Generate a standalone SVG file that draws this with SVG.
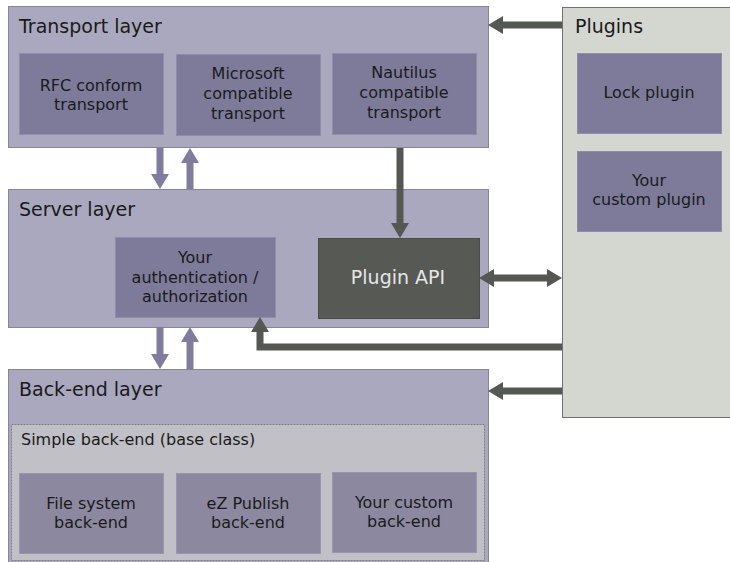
<svg xmlns="http://www.w3.org/2000/svg" width="730" height="562" viewBox="0 0 730 562">
<style>
.layer{fill:#aaa8bf;stroke:#86849b;stroke-width:1}
.box{fill:#7d7a9a;stroke:#8f8daa;stroke-width:1}
.bbox{fill:#8b889f;stroke:#9896ac;stroke-width:1}
.title{font-family:"DejaVu Sans",sans-serif;font-size:19px;fill:#1a1a1a}
.lbl{font-family:"DejaVu Sans",sans-serif;font-size:16px;fill:#1a1a1a;text-anchor:middle}
.dark{stroke:#555753;stroke-width:7;fill:none}
.blue{stroke:#7f7c9d;stroke-width:7;fill:none}
</style>
<defs>
<marker id="hd" markerUnits="userSpaceOnUse" markerWidth="16" markerHeight="18" refX="1" refY="9" orient="auto-start-reverse"><path d="M0,0 L15,9 L0,18 z" fill="#555753"/></marker>
<marker id="hb" markerUnits="userSpaceOnUse" markerWidth="16" markerHeight="18" refX="1" refY="9" orient="auto"><path d="M0,0 L15,9 L0,18 z" fill="#7f7c9d"/></marker>
</defs>
<rect width="730" height="562" fill="#ffffff"/>
<g id="transport">
<rect class="layer" x="8.5" y="6.5" width="480" height="141"/>
<text class="title" x="19" y="33">Transport layer</text>
</g>
<g id="rfc">
<rect class="box" x="19.5" y="53.5" width="144" height="81"/>
<text class="lbl" x="91" y="91">RFC conform</text>
<text class="lbl" x="91" y="110">transport</text>
</g>
<g id="microsoft">
<rect class="box" x="176.5" y="54.5" width="144" height="81"/>
<text class="lbl" x="248" y="79">Microsoft</text>
<text class="lbl" x="248" y="99">compatible</text>
<text class="lbl" x="248" y="119">transport</text>
</g>
<g id="nautilus">
<rect class="box" x="332.5" y="53.5" width="144" height="81"/>
<text class="lbl" x="404" y="78">Nautilus</text>
<text class="lbl" x="404" y="98">compatible</text>
<text class="lbl" x="404" y="118">transport</text>
</g>
<g id="server">
<rect class="layer" x="8.5" y="189.5" width="480" height="138"/>
<text class="title" x="19" y="216">Server layer</text>
</g>
<g id="auth">
<rect class="box" x="115.5" y="237.5" width="160" height="80"/>
<text class="lbl" x="195" y="263">Your</text>
<text class="lbl" x="195" y="283">authentication /</text>
<text class="lbl" x="195" y="302">authorization</text>
</g>
<g id="pluginapi">
<rect x="318.5" y="238.5" width="161" height="80" fill="#575955" stroke="#4a4c48"/>
<text x="398" y="284" font-family="DejaVu Sans,sans-serif" font-size="19" fill="#e6e6e6" text-anchor="middle">Plugin API</text>
</g>
<g id="backend">
<rect class="layer" x="8.5" y="369.5" width="480" height="196"/>
<text class="title" x="19" y="396">Back-end layer</text>
</g>
<g id="simple">
<rect x="11.5" y="424.5" width="473" height="136" fill="#c1c0c6" stroke="#7e7e86" stroke-width="1" stroke-dasharray="2,1"/>
<text x="21" y="445" font-family="DejaVu Sans,sans-serif" font-size="16" fill="#1a1a1a">Simple back-end (base class)</text>
</g>
<g id="filesystem">
<rect class="bbox" x="19.5" y="473.5" width="144" height="80"/>
<text class="lbl" x="91" y="509">File system</text>
<text class="lbl" x="91" y="528">back-end</text>
</g>
<g id="ezpublish">
<rect class="bbox" x="176.5" y="473.5" width="144" height="80"/>
<text class="lbl" x="248" y="509">eZ Publish</text>
<text class="lbl" x="248" y="528">back-end</text>
</g>
<g id="custombackend">
<rect class="bbox" x="332.5" y="472.5" width="144" height="80"/>
<text class="lbl" x="404" y="508">Your custom</text>
<text class="lbl" x="404" y="527">back-end</text>
</g>
<g id="plugins">
<rect x="562.5" y="7.5" width="175" height="410" fill="#d4d6d0" stroke="#6f716d" stroke-width="1"/>
<text class="title" x="575" y="33">Plugins</text>
</g>
<g id="lock">
<rect class="box" x="577.5" y="53.5" width="144" height="80"/>
<text class="lbl" x="649" y="98">Lock plugin</text>
</g>
<g id="customplugin">
<rect class="box" x="577.5" y="151.5" width="144" height="80"/>
<text class="lbl" x="649" y="186">Your</text>
<text class="lbl" x="649" y="205">custom plugin</text>
</g>
<g id="connectors">
<line class="dark" x1="562" y1="25" x2="502" y2="25" marker-end="url(#hd)"/>
<line class="dark" x1="400" y1="148" x2="400" y2="224" marker-end="url(#hd)"/>
<line class="dark" x1="493" y1="278" x2="548" y2="278" marker-start="url(#hd)" marker-end="url(#hd)"/>
<path class="dark" d="M562,347 H260 V331" marker-end="url(#hd)"/>
<line class="dark" x1="562" y1="391" x2="502" y2="391" marker-end="url(#hd)"/>
<line class="blue" x1="160" y1="148" x2="160" y2="175" marker-end="url(#hb)"/>
<line class="blue" x1="190" y1="189" x2="190" y2="162" marker-end="url(#hb)"/>
<line class="blue" x1="160" y1="327" x2="160" y2="355" marker-end="url(#hb)"/>
<line class="blue" x1="190" y1="369" x2="190" y2="341" marker-end="url(#hb)"/>
</g>
</svg>
